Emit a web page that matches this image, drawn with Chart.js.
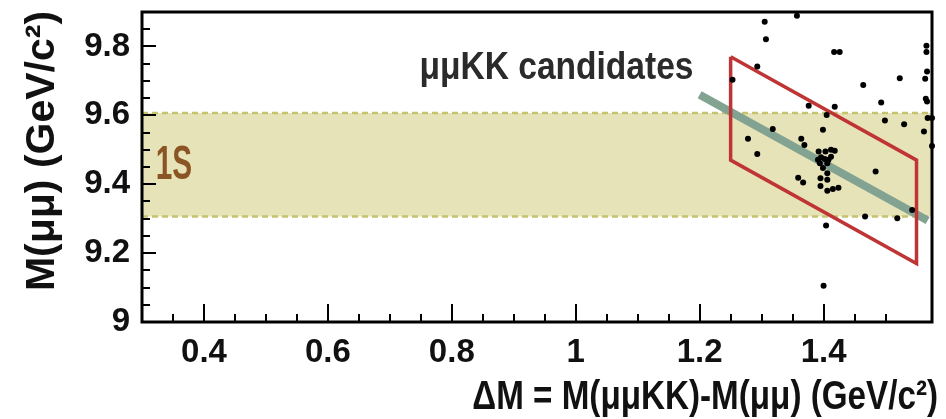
<!DOCTYPE html>
<html>
<head>
<meta charset="utf-8">
<script src="https://cdn.jsdelivr.net/npm/chart.js@4.4.1/dist/chart.umd.min.js"></script>
<style>
  html, body { margin: 0; padding: 0; background: #ffffff; }
  #wrap { width: 946px; height: 419px; }
</style>
</head>
<body>
<div id="wrap"><canvas id="c" width="946" height="419"></canvas></div>
<script>
// ---- axis ranges / ticks ----
const xRange = [0.3, 1.575];
const yRange = [9.0, 9.9];
const xMajorTicks = [0.4, 0.6, 0.8, 1.0, 1.2, 1.4];
const yMajorTicks = [9.0, 9.2, 9.4, 9.6, 9.8];

// ---- Upsilon(1S) mass band ----
const bandX = [0.3, 1.575];
const bandLow = [9.306, 9.306];
const bandHigh = [9.607, 9.607];

// ---- mumuKK candidates (scatter) ----
const candX = [1.305, 1.357, 1.307, 1.417, 1.426, 1.566, 1.566, 1.293, 1.253, 1.567,
               1.564, 1.523, 1.464, 1.565, 1.567, 1.493, 1.376, 1.418, 1.405, 1.499,
               1.530, 1.568, 1.575, 1.562, 1.575, 1.318, 1.278, 1.399, 1.364, 1.369,
               1.293, 1.392, 1.403, 1.412, 1.418, 1.391, 1.396, 1.402, 1.408, 1.412,
               1.394, 1.399, 1.406, 1.406, 1.395, 1.406, 1.359, 1.367, 1.395, 1.406,
               1.415, 1.424, 1.484, 1.543, 1.467, 1.519, 1.404, 1.400];
const candY = [9.872, 9.889, 9.821, 9.784, 9.784, 9.802, 9.784, 9.742, 9.703, 9.727,
               9.706, 9.708, 9.688, 9.648, 9.640, 9.637, 9.628, 9.625, 9.601, 9.585,
               9.574, 9.592, 9.592, 9.553, 9.511, 9.560, 9.532, 9.558, 9.532, 9.514,
               9.488, 9.495, 9.495, 9.500, 9.497, 9.471, 9.478, 9.473, 9.471, 9.480,
               9.461, 9.447, 9.461, 9.432, 9.417, 9.413, 9.419, 9.405, 9.395, 9.381,
               9.386, 9.390, 9.437, 9.325, 9.306, 9.301, 9.280, 9.105];

// ---- signal window (parallelogram) ----
const boxX = [1.25, 1.55, 1.55, 1.25, 1.25];
const boxY = [9.77, 9.47, 9.17, 9.47, 9.77];

// ---- guide line ----
const guideX = [1.20, 1.568];
const guideY = [9.66, 9.295];

// ---- texts ----
const yTitle = 'M(\u03bc\u03bc) (GeV/c\u00b2)';
const xTitle = '\u0394M = M(\u03bc\u03bcKK)-M(\u03bc\u03bc) (GeV/c\u00b2)';
const bandLabel = '1S';
const bandLabelPos = [0.322, 9.455];
const candLabel = '\u03bc\u03bcKK candidates';
const candLabelPos = [1.19, 9.737];

const zip = (xs, ys) => xs.map((x, i) => ({ x: x, y: ys[i] }));
const isMult = (v, step) => Math.abs(v / step - Math.round(v / step)) < 1e-6;

const FONT = '"Liberation Sans", Arial, Helvetica, sans-serif';

const decor = {
  id: 'decor',
  afterDatasetsDraw(chart) {
    const ctx = chart.ctx;
    const a = chart.chartArea;
    const xs = chart.scales.x, ys = chart.scales.y;
    ctx.save();
    // 1S label
    ctx.fillStyle = '#8a5424';
    ctx.textBaseline = 'middle';
    ctx.textAlign = 'left';
    ctx.translate(xs.getPixelForValue(bandLabelPos[0]), ys.getPixelForValue(bandLabelPos[1]));
    ctx.scale(0.62, 1);
    ctx.font = 'bold 48px ' + FONT;
    ctx.fillText(bandLabel, 0, 0);
    ctx.restore();

    // candidates label
    ctx.save();
    ctx.fillStyle = '#2b2b2b';
    ctx.textBaseline = 'middle';
    ctx.textAlign = 'right';
    ctx.translate(xs.getPixelForValue(candLabelPos[0]), ys.getPixelForValue(candLabelPos[1]));
    ctx.scale(0.86, 1);
    ctx.font = 'bold 39px ' + FONT;
    ctx.fillText(candLabel, 0, 0);
    ctx.restore();

    // inward ticks
    ctx.save();
    ctx.strokeStyle = '#000';
    ctx.lineWidth = 2;
    ctx.beginPath();
    xs.ticks.forEach(t => {
      if (!isMult(t.value, 0.05) || t.value <= xRange[0] + 1e-9 || t.value >= xRange[1] - 1e-9) return;
      const px = Math.round(xs.getPixelForValue(t.value));
      const len = isMult(t.value, 0.2) ? 18 : 8;
      ctx.moveTo(px, a.bottom);
      ctx.lineTo(px, a.bottom - len);
    });
    ys.ticks.forEach(t => {
      if (!isMult(t.value, 0.05) || t.value <= yRange[0] + 1e-9 || t.value >= yRange[1] - 1e-9) return;
      const py = Math.round(ys.getPixelForValue(t.value));
      const len = isMult(t.value, 0.2) ? 14 : 8;
      ctx.moveTo(a.left, py);
      ctx.lineTo(a.left + len, py);
    });
    ctx.stroke();
    // frame
    ctx.lineWidth = 3;
    ctx.strokeRect(a.left, a.top, a.right - a.left, a.bottom - a.top);
    ctx.restore();
  },
  afterDraw(chart) {
    const ctx = chart.ctx;
    ctx.save();
    ctx.fillStyle = '#111';
    // y title
    ctx.translate(43, 151);
    ctx.rotate(-Math.PI / 2);
    ctx.textAlign = 'center';
    ctx.textBaseline = 'middle';
    ctx.font = 'bold 41px ' + FONT;
    ctx.fillText(yTitle, 0, 0);
    ctx.restore();
    ctx.save();
    ctx.fillStyle = '#111';
    ctx.translate(938, 398);
    ctx.scale(0.83, 1);
    ctx.textAlign = 'right';
    ctx.textBaseline = 'middle';
    ctx.font = 'bold 40px ' + FONT;
    ctx.fillText(xTitle, 0, 0);
    ctx.restore();
  }
};

const tickFont = { family: FONT, size: 33, weight: 'bold' };

new Chart(document.getElementById('c'), {
  type: 'scatter',
  data: {
    datasets: [
      {
        label: 'candidates',
        data: zip(candX, candY),
        pointRadius: 3,
        pointBackgroundColor: '#000',
        pointBorderWidth: 0,
        showLine: false,
        clip: 6,
        order: 0
      },
      {
        label: 'window',
        data: zip(boxX, boxY),
        showLine: true,
        borderColor: '#bf3434',
        borderWidth: 3.5,
        borderJoinStyle: 'miter',
        pointRadius: 0,
        fill: false,
        order: 1
      },
      {
        label: 'guide',
        data: zip(guideX, guideY),
        showLine: true,
        borderColor: '#82a292',
        borderWidth: 8,
        pointRadius: 0,
        fill: false,
        order: 2
      },
      {
        label: 'bandLow',
        data: zip(bandX, bandLow),
        showLine: true,
        borderColor: '#c6c36e',
        borderWidth: 2.5,
        borderDash: [6, 4],
        pointRadius: 0,
        fill: false,
        order: 3
      },
      {
        label: 'bandHigh',
        data: zip(bandX, bandHigh),
        showLine: true,
        borderColor: '#c6c36e',
        borderWidth: 2.5,
        borderDash: [6, 4],
        pointRadius: 0,
        backgroundColor: '#e7e3b8',
        fill: '-1',
        order: 4
      }
    ]
  },
  options: {
    responsive: false,
    devicePixelRatio: 1,
    animation: false,
    events: [],
    layout: { padding: { top: 12, right: 14, left: 0, bottom: 0 } },
    plugins: { legend: { display: false }, tooltip: { enabled: false } },
    scales: {
      x: {
        type: 'linear',
        min: xRange[0],
        max: xRange[1],
        border: { display: false },
        grid: { drawOnChartArea: false, drawTicks: false },
        ticks: {
          stepSize: 0.05,
          autoSkip: false,
          maxRotation: 0,
          padding: 11,
          color: '#111',
          font: tickFont,
          callback: (v) => xMajorTicks.some(m => Math.abs(m - v) < 1e-6) ? String(Number(v.toFixed(1))) : ''
        },
        afterFit: (s) => { s.height = 97; s.paddingLeft = 0; s.paddingRight = 0; }
      },
      y: {
        type: 'linear',
        min: yRange[0],
        max: yRange[1],
        border: { display: false },
        grid: { drawOnChartArea: false, drawTicks: false },
        ticks: {
          stepSize: 0.05,
          autoSkip: false,
          padding: 12,
          color: '#111',
          font: tickFont,
          callback: (v) => yMajorTicks.some(m => Math.abs(m - v) < 1e-6) ? String(Number(v.toFixed(1))) : ''
        },
        afterFit: (s) => { s.width = 142; s.paddingTop = 0; s.paddingBottom = 0; }
      }
    }
  },
  plugins: [decor]
});
</script>
</body>
</html>
